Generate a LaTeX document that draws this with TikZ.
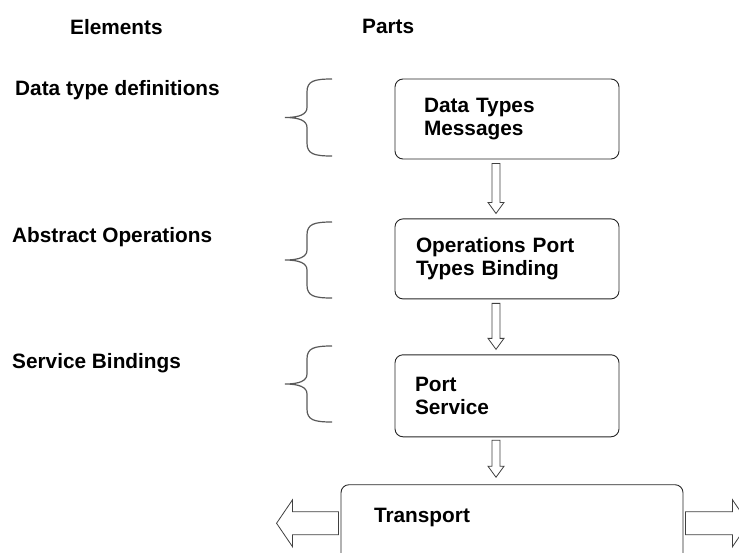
\documentclass[tikz,border=0pt]{standalone}
\usepackage{fontspec}
\setmainfont{Liberation Sans}
\usetikzlibrary{
	positioning,
	calc
}

% hollow block arrow: from, to, half shaft, half head, head length
\newcommand{\hollowarrow}[5]{%
	\coordinate (ha-base) at ($(#2)!#5!(#1)$);
	\draw[hollow] ($(#1)!#3!90:(#2)$) -- ($(ha-base)!#3!90:(#2)$)
		-- ($(ha-base)!#4!90:(#2)$) -- (#2)
		-- ($(ha-base)!#4!-90:(#2)$) -- ($(ha-base)!#3!-90:(#2)$)
		-- ($(#1)!#3!-90:(#2)$) -- cycle;
}

% curly brace opening to the right: top y, bottom y
\newcommand{\curly}[2]{%
	\draw[curlybrace] (332,#1) .. controls (314,#1) and (307,{#1+2}) .. (307,{#1+13})
		-- (307,{(#1+#2)/2-10}) .. controls (307,{(#1+#2)/2-3}) and (299,{(#1+#2)/2}) .. (285,{(#1+#2)/2})
		.. controls (299,{(#1+#2)/2}) and (307,{(#1+#2)/2+3}) .. (307,{(#1+#2)/2+10})
		-- (307,{#2-13}) .. controls (307,{#2-2}) and (314,#2) .. (332,#2);
}

\begin{document}
\begin{tikzpicture}[
				x=1pt, y=-1pt,
				every node/.style={font=\fontsize{20.8}{23}\selectfont\bfseries},
				part/.style={
					rectangle, draw=black!85, line width=0.9pt,
					rounded corners=8pt,
					minimum width=224pt, minimum height=80pt,
					align=left
				},
				label/.style={anchor=base west, inner sep=0pt},
				hollow/.style={draw=black!75, fill=white, line width=0.8pt},
				curlybrace/.style={draw=black!65, line width=1.2pt}
				]
				\useasboundingbox (0,0) rectangle (739,552);
				\clip (0,0) rectangle (739,552);
				
				% headings
				\node[label] (elements) at (70,34) {Elements};
				\node[label] (parts) at (362,33) {Parts};
				
				% element names
				\node[label] (dtdefs) at (15,95) {Data type definitions};
				\node[label] (absops) at (12,242) {Abstract Operations};
				\node[label] (svcbind) at (12,368) {Service Bindings};
				
				% braces
				\curly{79}{156}
				\curly{222}{298}
				\curly{346}{422}
				
				% parts
				\node[part, inner xsep=29pt, text width=166pt] (dtypes) at (507,119) {Data Types\\Messages};
				\node[part, inner xsep=21pt, text width=182pt, below=59pt of dtypes] (ops) {Operations Port\\Types Binding};
				\node[part, inner xsep=20pt, text width=184pt, minimum height=82pt, below=55pt of ops] (port) {Port\\Service};
				
				% transport
				\node[part, inner xsep=33pt, inner ysep=23pt, text width=276pt, text depth=50pt,
					below=47pt of port, xshift=5pt] (transport) {Transport};
				
				% arrow ends
				\coordinate (a1s) at ([shift={(-11pt,-4pt)}]dtypes.south);
				\coordinate (a1e) at ([shift={(-11pt,5pt)}]ops.north);
				\coordinate (a2s) at ([shift={(-11pt,-4pt)}]ops.south);
				\coordinate (a2e) at ([shift={(-11pt,5pt)}]port.north);
				\coordinate (a3s) at ([shift={(-11pt,-3pt)}]port.south);
				\coordinate (a3e) at ([shift={(-16pt,7pt)}]transport.north);
				\coordinate (lfs) at ([shift={(-2pt,-39pt)}]transport.north west);
				\coordinate (lfe) at ([shift={(-64pt,-39pt)}]transport.north west);
				\coordinate (rts) at ([shift={(2pt,-39pt)}]transport.north east);
				\coordinate (rte) at ([shift={(65pt,-39pt)}]transport.north east);
				
				% hollow arrows
				\hollowarrow{a1s}{a1e}{4pt}{8pt}{11pt}
				\hollowarrow{a2s}{a2e}{4pt}{8pt}{11pt}
				\hollowarrow{a3s}{a3e}{4pt}{8pt}{11pt}
				\hollowarrow{lfs}{lfe}{11.5pt}{23.5pt}{16pt}
				\hollowarrow{rts}{rte}{11.5pt}{23.5pt}{16pt}
\end{tikzpicture}
\end{document}
